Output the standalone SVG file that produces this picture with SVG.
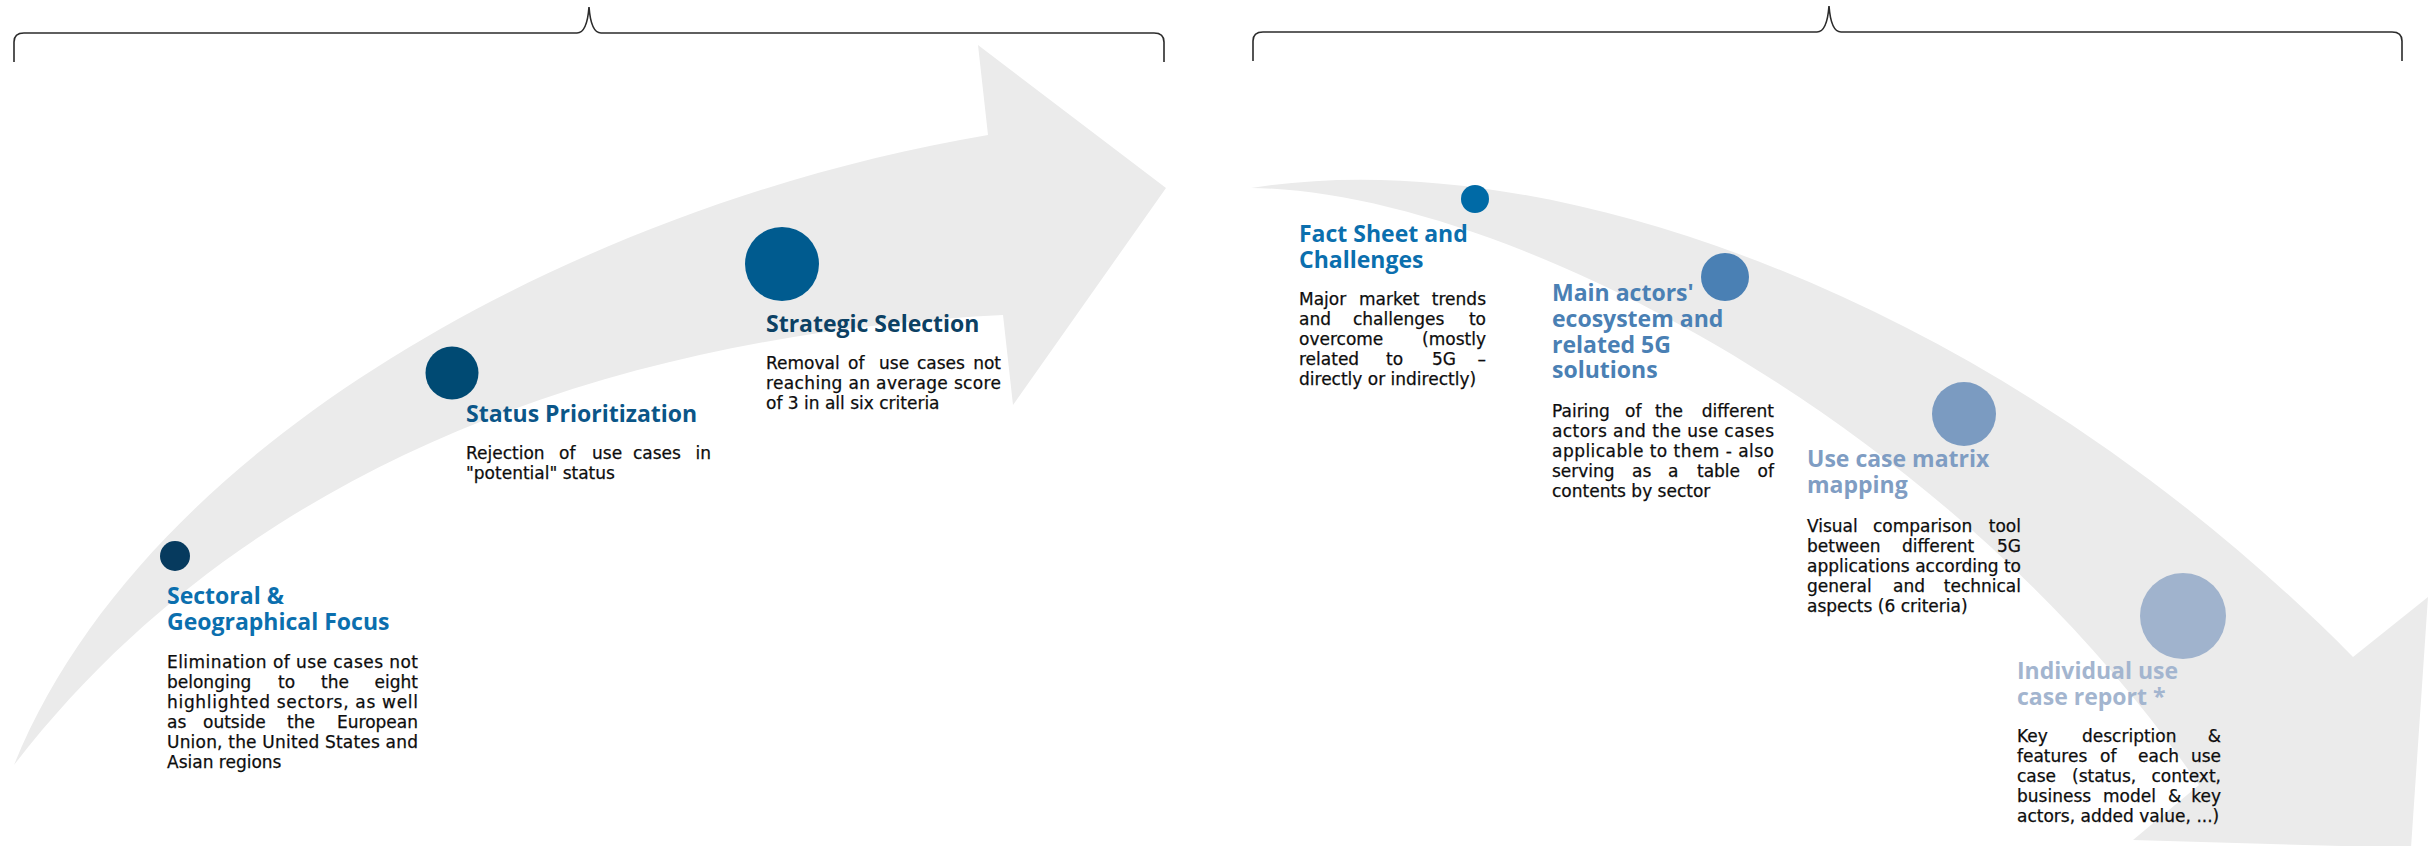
<svg xmlns="http://www.w3.org/2000/svg" width="2432" height="846" viewBox="0 0 2432 846">
<style>
.bg{fill:#ffffff}
.arrow{fill:#ebebeb;stroke:none}
.brace{fill:none;stroke:#2b2b2b;stroke-width:1.6;stroke-linejoin:miter}
.t{font-family:"Open Sans","Noto Sans","Liberation Sans",sans-serif;font-weight:700;font-size:23px}
.b{font-family:"DejaVu Sans","Liberation Sans",sans-serif;font-size:17px;fill:#0d0d0d;stroke:#0d0d0d;stroke-width:0.25}
.e{text-anchor:end}
</style>
<rect class="bg" x="0" y="0" width="2432" height="846"/>
<g id="connectors">
<path id="arrow-left" class="arrow" d="M14,765 C150,430 600,200 988,135 L978,45 L1166,188 L1013,405 L1003,315 C700,330 280,420 14,765 Z"/>
<path id="arrow-right" class="arrow" d="M1251,188 C1550,140 2000,300 2353,657 L2428,597 L2411,848 L2133,840 L2199,785 C1950,420 1500,190 1251,188 Z"/>
</g>
<g id="brackets">
<path class="brace" d="M14,62 L14,42 Q14,33 24,33 L577,33 Q587,33 589,7 Q591,33 601,33 L1154,33 Q1164,33 1164,42 L1164,62"/>
<path class="brace" d="M1253,61 L1253,41 Q1253,32 1263,32 L1817,32 Q1827,32 1829,6 Q1831,32 1841,32 L2392,32 Q2402,32 2402,41 L2402,61"/>
</g>
<g id="node-sectoral">
<circle cx="175" cy="556" r="15" fill="#063a5e"/>
<text class="t" fill="#0b6fae"><tspan x="167" y="604">Sectoral &amp;</tspan><tspan x="167" y="630">Geographical Focus</tspan></text>
<text class="b" x="167" y="668" textLength="251" lengthAdjust="spacing">Elimination of use cases not</text>
<text class="b" y="688"><tspan x="167">belonging</tspan><tspan x="278">to</tspan><tspan x="321">the</tspan></text>
<text class="b e" x="418" y="688">eight</text>
<text class="b" x="167" y="708" textLength="251" lengthAdjust="spacing">highlighted sectors, as well</text>
<text class="b" y="728"><tspan x="167">as</tspan><tspan x="203">outside</tspan><tspan x="287">the</tspan></text>
<text class="b e" x="418" y="728">European</text>
<text class="b" x="167" y="748" textLength="251" lengthAdjust="spacing">Union, the United States and</text>
<text class="b" x="167" y="768">Asian regions</text>
</g>
<g id="node-status">
<circle cx="452" cy="373" r="26.5" fill="#004a73"/>
<text class="t" fill="#0b5688" x="466" y="422">Status Prioritization</text>
<text class="b" y="459"><tspan x="466">Rejection</tspan><tspan x="559">of</tspan><tspan x="592">use</tspan><tspan x="633">cases</tspan></text>
<text class="b e" x="711" y="459">in</text>
<text class="b" x="466" y="479">"potential" status</text>
</g>
<g id="node-strategic">
<circle cx="782" cy="264" r="37" fill="#005b8f"/>
<text class="t" fill="#0c4164" x="766" y="332">Strategic Selection</text>
<text class="b" y="369"><tspan x="766">Removal</tspan><tspan x="848">of</tspan><tspan x="879">use</tspan><tspan x="917">cases</tspan></text>
<text class="b e" x="1001" y="369">not</text>
<text class="b" x="766" y="389" textLength="235" lengthAdjust="spacing">reaching an average score</text>
<text class="b" x="766" y="409">of 3 in all six criteria</text>
</g>
<g id="node-factsheet">
<circle cx="1475" cy="199" r="14" fill="#006aa6"/>
<text class="t" fill="#0b6fae"><tspan x="1299" y="242">Fact Sheet and</tspan><tspan x="1299" y="268">Challenges</tspan></text>
<text class="b" y="305"><tspan x="1299">Major</tspan><tspan x="1359">market</tspan></text>
<text class="b e" x="1486" y="305">trends</text>
<text class="b" y="325"><tspan x="1299">and</tspan><tspan x="1353">challenges</tspan></text>
<text class="b e" x="1486" y="325">to</text>
<text class="b" x="1299" y="345">overcome</text>
<text class="b e" x="1486" y="345">(mostly</text>
<text class="b" y="365"><tspan x="1299">related</tspan><tspan x="1386">to</tspan><tspan x="1432">5G</tspan></text>
<text class="b e" x="1486" y="365">–</text>
<text class="b" x="1299" y="385">directly or indirectly)</text>
</g>
<g id="node-actors">
<circle cx="1725" cy="277" r="24" fill="#4a80b4"/>
<text class="t" fill="#4a80b4"><tspan x="1552" y="301">Main actors'</tspan><tspan x="1552" y="327">ecosystem and</tspan><tspan x="1552" y="352.5">related 5G</tspan><tspan x="1552" y="378">solutions</tspan></text>
<text class="b" y="417"><tspan x="1552">Pairing</tspan><tspan x="1625">of</tspan><tspan x="1655">the</tspan></text>
<text class="b e" x="1774" y="417">different</text>
<text class="b" x="1552" y="437" textLength="222" lengthAdjust="spacing">actors and the use cases</text>
<text class="b" x="1552" y="457" textLength="222" lengthAdjust="spacing">applicable to them - also</text>
<text class="b" y="477"><tspan x="1552">serving</tspan><tspan x="1632">as</tspan><tspan x="1668">a</tspan><tspan x="1697">table</tspan></text>
<text class="b e" x="1774" y="477">of</text>
<text class="b" x="1552" y="497">contents by sector</text>
</g>
<g id="node-matrix">
<circle cx="1964" cy="414" r="32" fill="#7b9bc1"/>
<text class="t" fill="#7f9dc3"><tspan x="1807" y="467">Use case matrix</tspan><tspan x="1807" y="493">mapping</tspan></text>
<text class="b" y="532"><tspan x="1807">Visual</tspan><tspan x="1873">comparison</tspan></text>
<text class="b e" x="2021" y="532">tool</text>
<text class="b" y="552"><tspan x="1807">between</tspan><tspan x="1902">different</tspan></text>
<text class="b e" x="2021" y="552">5G</text>
<text class="b" x="1807" y="572" textLength="214" lengthAdjust="spacing">applications according to</text>
<text class="b" y="592"><tspan x="1807">general</tspan><tspan x="1893">and</tspan></text>
<text class="b e" x="2021" y="592">technical</text>
<text class="b" x="1807" y="612">aspects (6 criteria)</text>
</g>
<g id="node-report">
<circle cx="2183" cy="616" r="43" fill="#a0b3cd"/>
<text class="t" fill="#a3b5cf"><tspan x="2017" y="679">Individual use</tspan><tspan x="2017" y="705">case report *</tspan></text>
<text class="b" y="742"><tspan x="2017">Key</tspan><tspan x="2082">description</tspan></text>
<text class="b e" x="2221" y="742">&amp;</text>
<text class="b" y="762"><tspan x="2017">features</tspan><tspan x="2100">of</tspan><tspan x="2138">each</tspan></text>
<text class="b e" x="2221" y="762">use</text>
<text class="b" y="782"><tspan x="2017">case</tspan><tspan x="2072">(status,</tspan></text>
<text class="b e" x="2221" y="782">context,</text>
<text class="b" y="802"><tspan x="2017">business</tspan><tspan x="2103">model</tspan><tspan x="2168">&amp;</tspan></text>
<text class="b e" x="2221" y="802">key</text>
<text class="b" x="2017" y="822">actors, added value, ...)</text>
</g>
</svg>
